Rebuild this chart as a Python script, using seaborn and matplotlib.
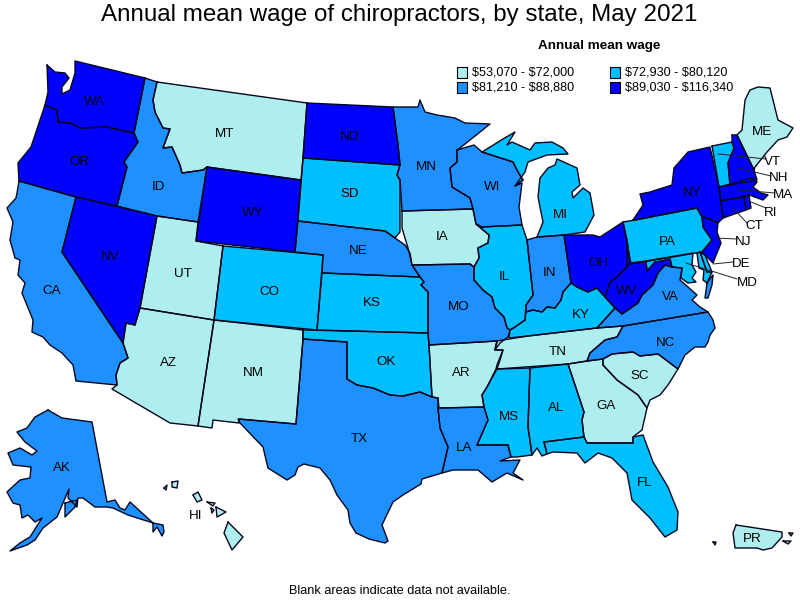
import pandas as pd
import matplotlib
matplotlib.use("Agg")
import matplotlib.pyplot as plt
import seaborn as sns

# wage bins
legend_labels = ["$53,070 - $72,000", "$72,930 - $80,120", "$81,210 - $88,880", "$89,030 - $116,340"]
bin_colors = ["#AFEEEE", "#00BFFF", "#1E90FF", "#0000FF"]

bin_1 = ["MT", "UT", "AZ", "NM", "IA", "AR", "TN", "GA", "SC", "ME", "HI", "PR"]
bin_2 = ["SD", "CO", "KS", "OK", "IL", "MI", "KY", "MS", "AL", "FL", "PA", "VT", "MD", "DE"]
bin_3 = ["ID", "CA", "NE", "MN", "WI", "MO", "IN", "TX", "LA", "AK", "VA", "NC"]
bin_4 = ["WA", "OR", "NV", "WY", "ND", "OH", "WV", "NY", "NJ", "NH", "MA", "CT", "RI"]

# state outlines in pixels
WA = [(47,65),(55,72),(65,73),(69,78),(62,87),(62,94),(70,90),(75,73),(75,61),(145,78),(134,133),(107,127),(80,128),(70,123),(58,122),(57,110),(45,105),(48,92)]
OR = [(45,105),(57,110),(58,122),(70,123),(80,128),(107,127),(134,133),(138,142),(124,162),(127,167),(117,206),(76,197),(19,181),(18,163),(31,147)]
CA = [(19,181),(76,197),(62,252),(123,343),(128,358),(120,363),(116,375),(117,385),(76,381),(73,365),(62,353),(50,345),(43,337),(32,332),(33,320),(22,293),(25,283),(18,275),(20,260),(15,258),(10,240),(13,222),(7,208),(16,198),(17,193)]
NV = [(76,197),(157,216),(140,308),(135,325),(126,323),(123,343),(62,252)]
ID = [(145,78),(157,82),(153,100),(155,112),(163,128),(170,129),(163,148),(172,147),(180,165),(182,173),(203,170),(207,167),(198,222),(157,216),(117,206),(127,167),(124,162),(138,142),(134,133)]
MT = [(157,82),(307,103),(303,158),(301,180),(207,167),(203,170),(182,173),(180,165),(172,147),(163,148),(170,129),(163,128),(155,112),(153,100)]
WY = [(207,167),(301,180),(295,252),(196,241)]
UT = [(157,216),(198,222),(196,241),(223,246),(214,320),(140,308)]
AZ = [(140,308),(214,320),(198,426),(170,423),(129,399),(112,389),(117,385),(116,375),(120,363),(128,358),(123,343),(126,323),(135,325)]
CO = [(223,246),(323,255),(317,330),(214,320)]
NM = [(214,320),(303,330),(303,339),(296,424),(239,419),(239,423),(213,420),(212,428),(198,426)]
ND = [(307,103),(393,107),(398,145),(400,165),(303,158)]
SD = [(303,158),(400,165),(397,175),(400,180),(400,232),(395,238),(385,231),(298,221)]
NE = [(298,221),(385,231),(395,238),(405,245),(410,253),(412,265),(420,277),(322,273),(323,255),(295,252)]
KS = [(322,273),(420,277),(424,282),(421,285),(428,292),(428,333),(317,330)]
OK = [(303,330),(428,333),(429,345),(432,397),(420,392),(403,396),(390,395),(373,388),(357,385),(347,379),(347,342),(303,339)]
TX = [(303,339),(347,342),(347,379),(357,385),(373,388),(390,395),(403,396),(420,392),(432,397),(438,398),(438,408),(440,428),(448,447),(442,473),(422,479),(421,484),(403,495),(393,502),(382,525),(388,541),(385,543),(369,539),(356,533),(350,523),(348,510),(337,495),(330,480),(320,468),(304,464),(298,467),(295,475),(287,480),(268,468),(263,447),(240,423),(238,419),(296,424)]
MN = [(393,107),(418,107),(420,100),(425,112),(437,115),(455,118),(465,123),(490,124),(460,148),(457,150),(457,162),(450,168),(452,187),(470,198),(473,209),(402,211),(400,180),(397,175),(400,165),(398,145)]
IA = [(402,211),(473,209),(476,224),(489,235),(488,243),(478,248),(479,258),(474,267),(470,264),(412,265),(408,248),(402,228)]
MO = [(412,265),(470,264),(474,267),(474,280),(483,290),(492,297),(495,308),(504,317),(507,328),(510,330),(508,337),(500,343),(495,350),(497,341),(429,345),(428,333),(428,292),(421,285),(424,282),(420,277)]
AR = [(429,345),(497,341),(495,350),(503,350),(497,365),(496,369),(487,387),(482,395),(484,407),(439,408),(438,398),(432,397)]
LA = [(438,408),(484,407),(488,420),(477,445),(508,445),(511,457),(500,461),(520,460),(513,473),(523,480),(507,473),(492,482),(478,470),(453,470),(442,473),(448,447),(440,428)]
WI = [(457,150),(474,145),(482,152),(513,162),(518,172),(523,180),(515,186),(522,183),(519,207),(522,225),(482,227),(476,224),(473,209),(470,198),(452,187),(450,168),(457,162)]
IL = [(482,227),(522,225),(527,240),(533,295),(526,305),(525,320),(515,327),(510,330),(507,328),(504,317),(495,308),(492,297),(483,290),(474,280),(474,267),(479,258),(478,248),(488,243),(489,235),(476,224)]
IN = [(527,240),(537,237),(564,235),(571,283),(563,292),(561,300),(555,308),(547,307),(542,312),(533,310),(526,312),(526,305),(533,295)]
MI_LOWER = [(537,237),(543,222),(538,197),(540,178),(548,168),(555,165),(557,159),(577,168),(580,185),(572,192),(573,198),(583,188),(590,193),(594,215),(585,232),(564,235)]
MI_UPPER = [(482,152),(503,139),(515,132),(507,145),(512,142),(530,150),(535,143),(552,142),(563,148),(568,154),(547,155),(528,162),(525,172),(515,186),(523,180),(518,172),(513,162)]
OH = [(564,235),(593,235),(600,237),(623,222),(627,240),(630,263),(627,267),(617,277),(610,282),(605,297),(597,288),(588,292),(577,287),(571,283)]
KY = [(526,312),(533,310),(542,312),(547,307),(555,308),(561,300),(563,292),(571,283),(577,287),(588,292),(597,288),(605,297),(615,308),(597,328),(528,336),(509,338),(510,330),(515,327),(525,320)]
TN = [(503,340),(528,336),(597,328),(623,326),(617,337),(605,340),(590,353),(587,361),(568,364),(497,369),(500,360),(503,350),(495,350),(497,341)]
MS = [(497,369),(530,368),(528,427),(532,455),(517,457),(511,457),(508,445),(477,445),(488,420),(484,407),(482,395),(487,387)]
AL = [(530,368),(568,364),(584,412),(582,420),(584,437),(544,442),(547,454),(542,456),(537,448),(532,455),(528,427)]
GA = [(568,364),(587,361),(603,359),(603,365),(617,380),(638,395),(647,408),(642,430),(633,437),(633,443),(587,443),(584,437),(582,420),(584,412)]
FL = [(544,442),(584,437),(587,443),(633,443),(633,437),(643,435),(653,462),(668,487),(678,512),(677,530),(665,537),(650,518),(632,500),(627,473),(612,458),(598,453),(585,463),(577,453),(553,452),(547,454)]
SC = [(603,359),(612,354),(633,352),(640,356),(658,354),(678,369),(668,385),(660,395),(650,400),(647,408),(638,395),(617,380),(603,365)]
NC = [(623,326),(708,312),(713,320),(715,328),(710,335),(708,342),(705,347),(695,347),(685,355),(678,369),(658,354),(640,356),(633,352),(612,354),(603,359),(587,361),(590,353),(605,340),(617,337)]
VA = [(597,328),(615,308),(622,314),(638,303),(642,295),(653,285),(658,273),(665,265),(672,267),(682,268),(680,280),(688,287),(697,295),(692,300),(700,307),(708,312),(623,326)]
VA_SHORE = [(707,283),(713,275),(712,285),(708,298),(705,298)]
WV = [(627,240),(630,263),(646,261),(647,271),(655,262),(662,261),(670,259),(672,267),(665,265),(658,273),(653,285),(642,295),(638,303),(622,314),(615,308),(605,297),(610,282),(617,277),(627,267)]
MD_WEST = [(646,261),(693,253),(692,265),(696,272),(692,278),(696,282),(688,283),(681,278),(682,268),(672,267),(670,259),(662,261),(655,262),(647,271)]
MD_EAST = [(697,253),(700,252),(707,272),(712,272),(707,283),(703,280),(704,270),(699,268)]
DE = [(700,252),(705,255),(712,272),(707,272)]
PA = [(623,222),(635,220),(697,208),(702,217),(703,227),(712,240),(702,252),(631,264)]
NJ = [(707,218),(718,223),(717,232),(721,243),(713,263),(702,252),(712,240),(703,227),(702,217)]
NY = [(633,220),(643,205),(640,194),(650,192),(672,185),(674,168),(688,152),(710,147),(719,187),(723,218),(718,223),(707,218),(702,217),(697,208),(635,220)]
VT = [(712,146),(732,142),(734,148),(728,163),(730,185),(719,187)]
NH = [(732,135),(737,135),(754,170),(757,180),(730,185),(728,163),(734,148),(732,142)]
ME = [(737,135),(742,130),(745,100),(750,90),(758,87),(770,88),(778,120),(793,128),(787,137),(778,140),(767,152),(755,167),(754,170)]
MA = [(719,187),(752,178),(757,182),(753,187),(761,193),(768,195),(763,200),(749,195),(721,201)]
CT = [(721,201),(744,197),(746,210),(723,218)]
RI = [(744,197),(749,195),(751,208),(746,210)]
AK = [(48,410),(62,418),(92,422),(107,502),(115,500),(120,508),(125,510),(130,502),(153,523),(163,525),(164,532),(162,536),(157,527),(153,532),(153,523),(128,515),(113,508),(107,507),(95,507),(83,498),(78,498),(77,507),(68,498),(69,489),(57,517),(43,528),(35,540),(27,545),(10,551),(20,543),(30,537),(42,518),(35,522),(28,515),(22,518),(20,505),(13,503),(7,492),(20,480),(30,478),(31,467),(13,465),(8,453),(20,448),(32,455),(37,451),(25,442),(17,432),(27,428),(35,417)]
AK_KODIAK = [(65,503),(77,500),(75,507),(65,517)]
HI_BIG = [(228,522),(243,537),(232,550),(224,533)]
HI_MAUI = [(216,507),(226,512),(217,517)]
HI_OAHU = [(193,495),(198,492),(202,500),(197,502)]
HI_KAUAI = [(172,482),(178,481),(177,488),(172,487)]
HI_MOLOKAI = [(207,502),(215,503),(213,506)]
HI_LANAI = [(211,508),(214,510),(212,513)]
HI_NIIHAU = [(164,488),(167,485),(166,490)]
PR_MAIN = [(736,525),(782,532),(782,537),(772,548),(763,550),(757,548),(735,548),(733,533)]
PR_VIEQUES = [(783,541),(791,541),(788,544)]
PR_CULEBRA = [(789,533),(793,533),(791,536)]
PR_MONA = [(713,542),(716,542),(715,545)]

state_shapes = {
    "WA": [WA], "OR": [OR], "CA": [CA], "NV": [NV], "ID": [ID], "MT": [MT], "WY": [WY], "UT": [UT],
    "AZ": [AZ], "CO": [CO], "NM": [NM], "ND": [ND], "SD": [SD], "NE": [NE], "KS": [KS], "OK": [OK],
    "TX": [TX], "MN": [MN], "IA": [IA], "MO": [MO], "AR": [AR], "LA": [LA], "WI": [WI], "IL": [IL],
    "IN": [IN], "MI": [MI_LOWER, MI_UPPER], "OH": [OH], "KY": [KY], "TN": [TN], "MS": [MS], "AL": [AL],
    "GA": [GA], "FL": [FL], "SC": [SC], "NC": [NC], "VA": [VA, VA_SHORE], "WV": [WV], "MD": [MD_WEST, MD_EAST],
    "DE": [DE], "PA": [PA], "NJ": [NJ], "NY": [NY], "VT": [VT], "NH": [NH], "ME": [ME], "MA": [MA],
    "CT": [CT], "RI": [RI], "AK": [AK, AK_KODIAK],
    "HI": [HI_BIG, HI_MAUI, HI_OAHU, HI_KAUAI, HI_MOLOKAI, HI_LANAI, HI_NIIHAU],
    "PR": [PR_MAIN, PR_VIEQUES, PR_CULEBRA, PR_MONA],
}

# labels sitting on the state
label_spots = {
    "WA": (94,102), "OR": (79,162), "CA": (52,291), "NV": (110,257), "ID": (158,187), "MT": (225,134),
    "WY": (253,213), "UT": (183,274), "AZ": (168,363), "CO": (269,292), "NM": (253,373), "ND": (350,137),
    "SD": (350,194), "NE": (358,251), "KS": (372,303), "OK": (386,362), "TX": (359,439), "MN": (426,167),
    "IA": (442,237), "MO": (459,307), "AR": (461,373), "LA": (464,448), "WI": (492,187), "IL": (504,277),
    "IN": (550,273), "MI": (560,215), "OH": (598,263), "KY": (581,315), "TN": (558,352), "MS": (509,417),
    "AL": (556,408), "GA": (606,406), "FL": (645,483), "SC": (640,376), "NC": (666,343), "VA": (670,297),
    "WV": (627,291), "PA": (667,242), "NY": (692,193), "ME": (762,132), "AK": (62,468), "HI": (196,516),
    "PR": (752,539),
}
# labels set off the map: label spot, then the two ends of the leader line
leader_spots = {
    "VT": ((772,162), (718,154), (766,159)),
    "NH": ((779,178), (738,168), (771,176)),
    "MA": ((783,195), (738,190), (775,193)),
    "RI": ((771,213), (751,202), (766,208)),
    "CT": ((754,226), (732,207), (747,223)),
    "NJ": ((743,242), (715,238), (737,239)),
    "DE": ((741,264), (713,264), (733,262)),
    "MD": ((747,283), (686,263), (737,279)),
}

state_bin = {}
for i, group in enumerate([bin_1, bin_2, bin_3, bin_4]):
    for st in group:
        state_bin[st] = i

sns.set_theme(style="white")
plt.rcParams["font.family"] = ["Liberation Sans", "DejaVu Sans"]
palette = sns.color_palette(bin_colors)

fig, ax = plt.subplots(figsize=(8, 6), dpi=100)
ax.set_position([0, 0, 1, 1])

rows = []
piece = 0
for st, parts in state_shapes.items():
    for part in parts:
        xs = [p[0] for p in part]
        ys = [p[1] for p in part]
        ax.fill(xs, ys, color=palette[state_bin[st]], lw=0, zorder=1)
        # close the ring for the outline
        for x, y in zip(xs + xs[:1], ys + ys[:1]):
            rows.append({"x": x, "y": y, "piece": piece})
        piece += 1
outlines = pd.DataFrame(rows)

sns.lineplot(data=outlines, x="x", y="y", units="piece", estimator=None, sort=False,
             color="#06061e", linewidth=1.0, ax=ax, zorder=2, legend=False)

label_size = 9.6
for st, (x, y) in label_spots.items():
    ax.text(x, y, st, fontsize=label_size, color="black", ha="center", va="center", zorder=4)
for st, (spot, start, end) in leader_spots.items():
    ax.plot([start[0], end[0]], [start[1], end[1]], color="#222222", lw=0.7, zorder=3)
    ax.text(spot[0], spot[1], st, fontsize=label_size, color="black", ha="center", va="center", zorder=4)

# legend swatches
legend_df = pd.DataFrame({
    "x": [462, 615, 462, 615],
    "y": [72.5, 72.5, 87.5, 87.5],
    "label": legend_labels,
})
sns.scatterplot(data=legend_df, x="x", y="y", hue="label", palette=palette, marker="s", s=58,
                edgecolor="black", linewidth=0.8, ax=ax, zorder=3, legend=False)
for x, y, label in zip(legend_df["x"], legend_df["y"], legend_df["label"]):
    ax.text(x + 10, y, label.replace("$", r"\$"), fontsize=9.1, color="black", ha="left", va="center")

ax.text(599, 46.5, "Annual mean wage", fontsize=9.7, fontweight="bold", color="black", ha="center", va="center")
ax.text(399, 15.5, "Annual mean wage of chiropractors, by state, May 2021", fontsize=17.4, color="black",
        ha="center", va="center")
ax.text(399.5, 591, "Blank areas indicate data not available.", fontsize=9.2, color="black", ha="center", va="center")

ax.set_xlim(0, 800)
ax.set_ylim(600, 0)
ax.set_xlabel("")
ax.set_ylabel("")
ax.set_axis_off()
sns.despine(ax=ax, left=True, bottom=True)

fig.savefig("out.png", dpi=100)
